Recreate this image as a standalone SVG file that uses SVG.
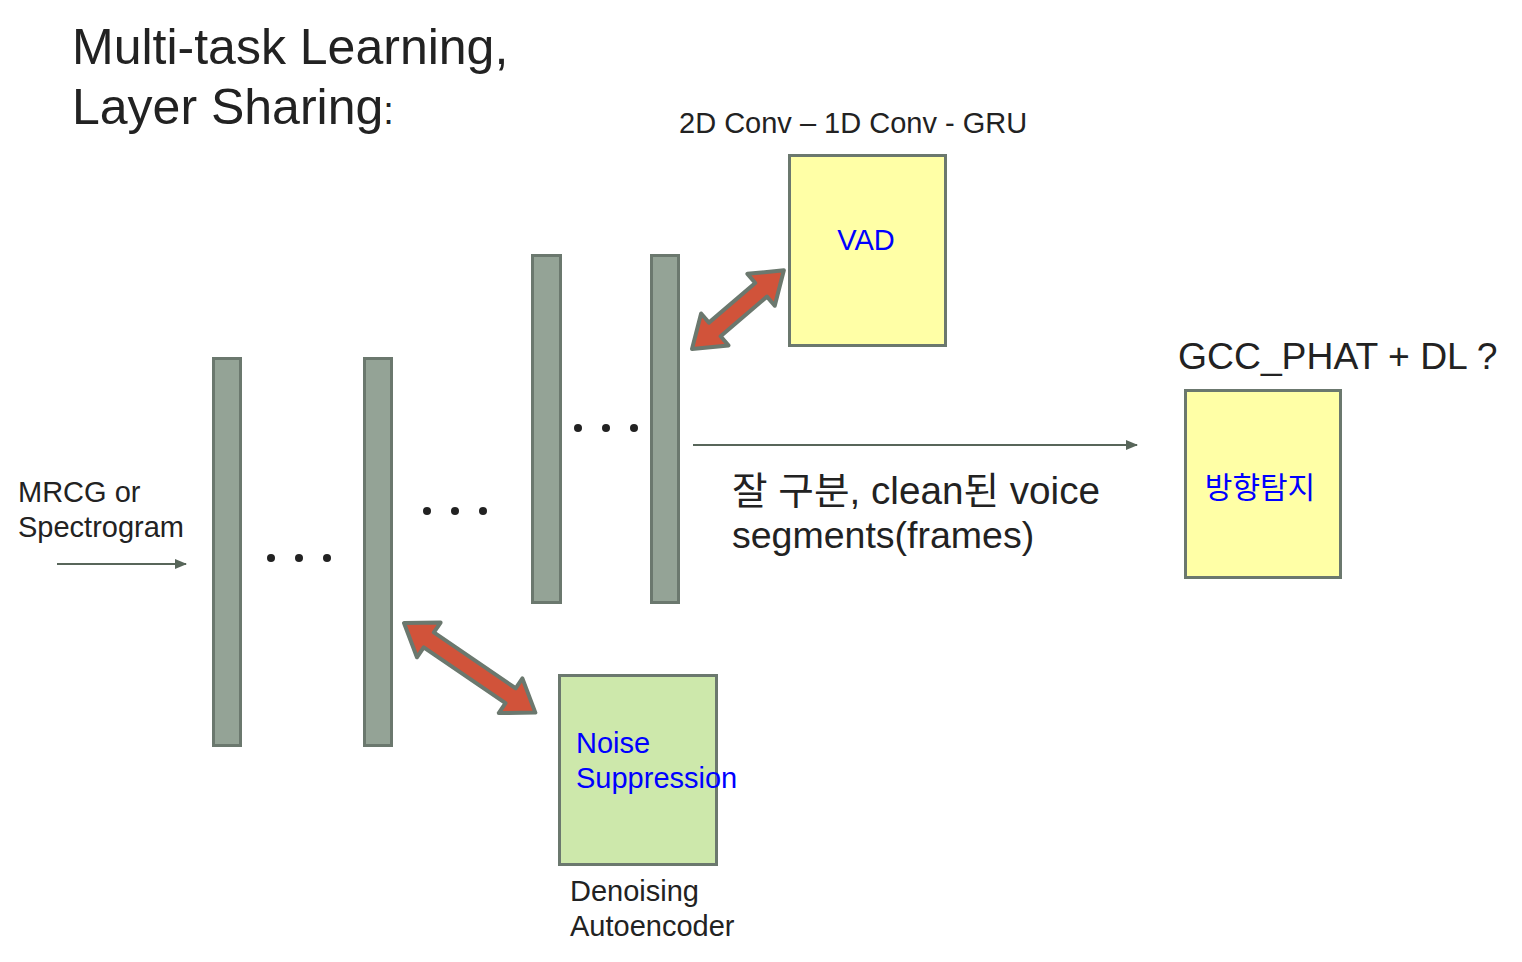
<svg xmlns="http://www.w3.org/2000/svg" width="1522" height="962" viewBox="0 0 1522 962">
<style>
text{font-family:"Liberation Sans","Noto Sans CJK KR",sans-serif;fill:#222}
.bar{fill:#94a396;stroke:#6b786e;stroke-width:3}
.box{stroke:#6b786e;stroke-width:3}
.dbl{fill:#d1533a;stroke:#6b786e;stroke-width:4;stroke-linejoin:round}
.blue{fill:#0000ff}
.line{stroke:#58665a;stroke-width:2;fill:none}
.dot{fill:#222}
</style>
<defs>
<marker id="ah" markerWidth="12" markerHeight="10" refX="11" refY="5" orient="auto" markerUnits="userSpaceOnUse">
<path d="M0,0 L12,5 L0,10 Z" fill="#58665a"/>
</marker>
</defs>
<rect width="1522" height="962" fill="#fff"/>
<g id="title">
<text x="72" y="64" font-size="50">Multi-task Learning,</text>
<text x="72" y="124" font-size="50">Layer Sharing<tspan font-size="38">:</tspan></text>
</g>
<g id="input-label">
<text x="18" y="502" font-size="29">MRCG or</text>
<text x="18" y="537" font-size="29">Spectrogram</text>
</g>
<g id="layer1"><rect class="bar" x="213.5" y="358.5" width="27" height="387"/></g>
<g id="layer2"><rect class="bar" x="364.5" y="358.5" width="27" height="387"/></g>
<g id="layer3"><rect class="bar" x="532.5" y="255.5" width="28" height="347"/></g>
<g id="layer4"><rect class="bar" x="651.5" y="255.5" width="27" height="347"/></g>
<g id="dots">
<circle class="dot" cx="271" cy="558" r="4"/><circle class="dot" cx="299" cy="558" r="4"/><circle class="dot" cx="327" cy="558" r="4"/>
<circle class="dot" cx="427" cy="511" r="4"/><circle class="dot" cx="455" cy="511" r="4"/><circle class="dot" cx="483" cy="511" r="4"/>
<circle class="dot" cx="578" cy="428" r="4"/><circle class="dot" cx="606" cy="428" r="4"/><circle class="dot" cx="634" cy="428" r="4"/>
</g>
<g id="vad">
<text x="679" y="133" font-size="29">2D Conv – 1D Conv - GRU</text>
<rect class="box" x="789.5" y="155.5" width="156" height="190" fill="#ffffa6"/>
<text class="blue" x="866" y="250" font-size="29" text-anchor="middle">VAD</text>
</g>
<g id="direction">
<text x="1178" y="369" font-size="37.3">GCC_PHAT + DL ?</text>
<rect class="box" x="1185.5" y="390.5" width="155" height="187" fill="#ffffa6"/>
<text class="blue" x="1260" y="498" font-size="30" text-anchor="middle">방향탐지</text>
</g>
<g id="noise">
<rect class="box" x="559.5" y="675.5" width="157" height="189" fill="#cde8ab"/>
<text class="blue" x="576" y="753" font-size="29">Noise</text>
<text class="blue" x="576" y="788" font-size="29">Suppression</text>
<text x="570" y="901" font-size="29">Denoising</text>
<text x="570" y="936" font-size="29">Autoencoder</text>
</g>
<g id="output-label">
<text x="732" y="504" font-size="38" textLength="368" lengthAdjust="spacingAndGlyphs">잘 구분, clean된 voice</text>
<text x="732" y="548" font-size="37.5">segments(frames)</text>
</g>
<g id="connectors">
<line class="line" x1="57" y1="564" x2="186" y2="564" marker-end="url(#ah)"/>
<line class="line" x1="693" y1="445" x2="1137" y2="445" marker-end="url(#ah)"/>
<polygon class="dbl" transform="translate(692,349) rotate(-40.6)" points="0,0 30,-21 30,-9 91,-9 91,-21 121,0 91,21 91,9 30,9 30,21"/>
<polygon class="dbl" transform="translate(404,623) rotate(34.3)" points="0,0 30,-21 30,-9 129,-9 129,-21 159,0 129,21 129,9 30,9 30,21"/>
</g>
</svg>
